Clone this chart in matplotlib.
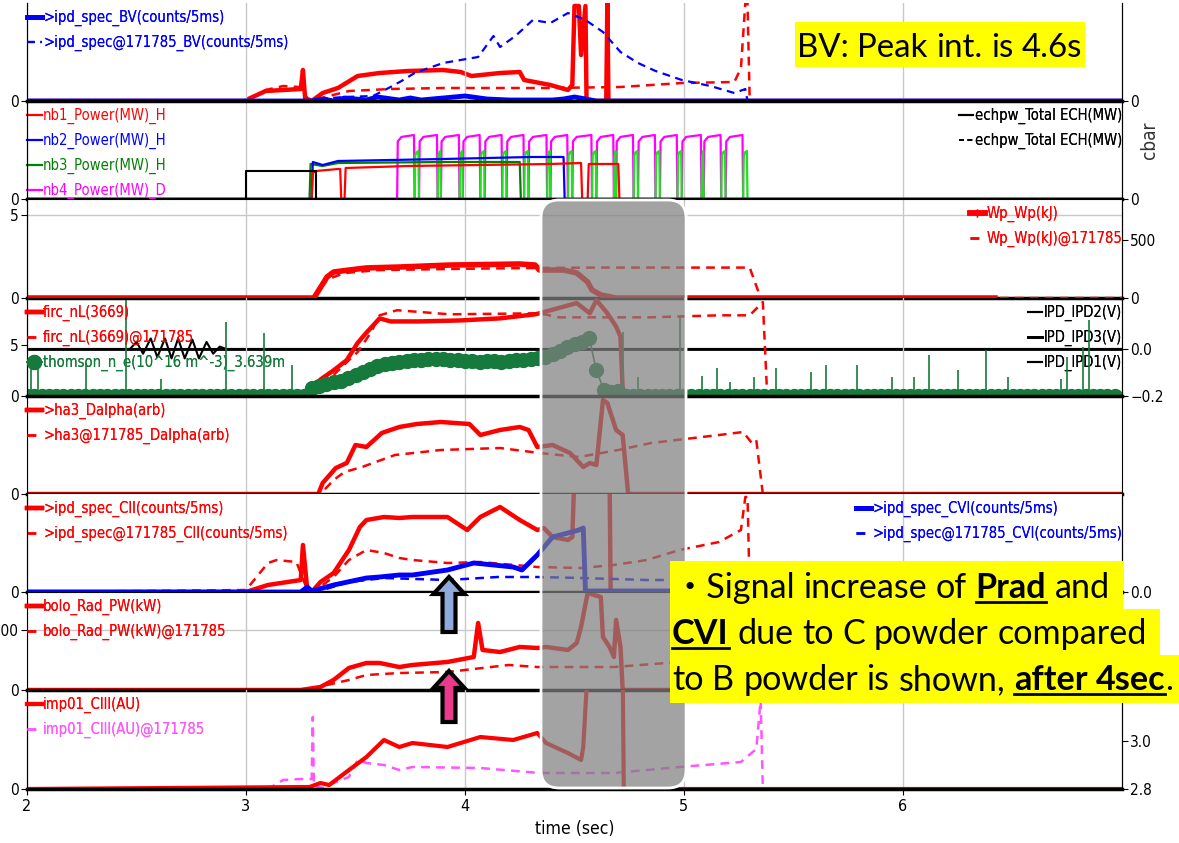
import re
import numpy as np
import matplotlib
matplotlib.use('Agg')
import matplotlib.pyplot as plt
from matplotlib import font_manager as fm
from matplotlib.patches import FancyBboxPatch, FancyArrow, Rectangle
from matplotlib.transforms import IdentityTransform
from matplotlib.lines import Line2D

# ---------------- data ----------------
# panel 1: BV line (arb. units)
bv_t = [2.0, 3.00, 3.01, 3.09, 3.25, 3.26, 3.27, 3.30, 3.35, 3.42, 3.51, 3.61, 3.74, 3.90, 3.98,
        4.03, 4.16, 4.25, 4.27, 4.39, 4.47, 4.49, 4.50, 4.52, 4.53, 4.55, 4.555, 4.645, 4.65, 4.655, 7.0]
bv_v = [0, 0, 2, 10, 12, 31, 3, 0, 8, 13, 25, 28, 30, 31, 29,
        25, 28, 29, 21, 16, 11, 16, 95, 95, 46, 95, 0, 0, 98, 0, 0]
bv2_t = [2.0, 3.0, 3.09, 3.17, 3.24, 3.28, 3.30, 3.38, 3.47, 3.66, 3.90, 4.39, 4.71, 4.99,
         5.23, 5.26, 5.28, 5.29, 5.30, 7.0]
bv2_v = [0, 0, 11, 15, 14, 3, 0, 5, 10, 12, 13, 13, 14, 18, 19, 33, 98, 98, 0, 0]
bvb_t = [2.0, 3.30, 3.35, 3.40, 3.45, 3.55, 3.60, 3.70, 3.75, 3.80, 3.90, 4.00, 4.10, 4.20,
         4.30, 4.40, 4.45, 4.50, 4.55, 4.60, 7.0]
bvb_v = [0, 0, 2, 0, 3, 1, 4, 1, 3, 1, 3, 5, 2, 1, 1, 1, 2, 4, 2, 0, 0]
bvb2_t = [2.0, 3.30, 3.32, 3.45, 3.58, 3.66, 3.71, 3.77, 3.90, 4.06, 4.13, 4.16, 4.23, 4.31,
          4.39, 4.47, 4.55, 4.63, 4.71, 4.79, 4.87, 4.99, 5.12, 5.23, 5.28, 5.29, 7.0]
bvb2_v = [0, 0, 2, 4, 5, 14, 20, 28, 38, 44, 65, 54, 65, 81, 78, 88, 81, 69, 49, 38, 30,
          21, 15, 8, 12, 0, 0]

# panel 2: NBI / ECH power (arb. units)
ech_t = [2.0, 3.0, 3.0, 3.32, 3.32, 7.0]
ech_v = [0, 0, 28, 28, 0, 0]
nb1_t = [2.0, 3.30, 3.305, 3.32, 3.42, 3.43, 3.435, 3.45, 3.455, 3.74, 4.39, 4.53, 4.535,
         4.56, 4.565, 4.70, 4.705, 7.0]
nb1_v = [0, 0, 26, 28, 30, 30, 0, 0, 31, 33, 35, 36, 0, 0, 35, 35, 0, 0]
nb2_t = [2.0, 3.30, 3.305, 3.35, 3.42, 3.90, 4.30, 4.45, 4.455, 7.0]
nb2_v = [0, 0, 37, 34, 38, 40, 42, 42, 0, 0]
nb3_t = [2.0, 3.29, 3.295, 3.35, 3.42, 3.90, 4.25, 4.255, 7.0]
nb3_v = [0, 0, 35, 33, 36, 37, 37, 0, 0]
nb3_on = [3.77, 3.875, 3.975, 4.07, 4.17, 4.27, 4.375, 4.47, 4.58, 4.68, 4.77, 4.87, 4.97, 5.08, 5.17, 5.27]
nb3_off = [3.79, 3.89, 3.99, 4.09, 4.19, 4.29, 4.39, 4.49, 4.60, 4.69, 4.79, 4.89, 4.99, 5.09, 5.19, 5.29]
nb3_level = 48
nb4_on = [3.69, 3.79, 3.89, 3.99, 4.09, 4.19, 4.29, 4.39, 4.49, 4.60, 4.69, 4.79, 4.89, 4.99, 5.09, 5.19]
nb4_off = [3.77, 3.875, 3.975, 4.07, 4.17, 4.27, 4.375, 4.47, 4.58, 4.68, 4.77, 4.87, 4.97, 5.08, 5.17, 5.27]
nb4_level = 64

# panel 3: Wp (kJ)
wp_t = [2.0, 3.31, 3.37, 3.40, 3.47, 3.55, 3.70, 3.93, 4.25, 4.32, 4.34, 4.45, 4.51, 4.56,
        4.58, 4.62, 4.69, 6.42]
wp_v = [0, 0, 181, 224, 241, 259, 267, 284, 293, 284, 241, 241, 216, 138, 69, 26, 0, 0]
wp2_t = [2.0, 3.31, 3.37, 3.45, 3.60, 4.00, 4.34, 4.60, 5.00, 5.30, 5.35, 7.0]
wp2_v = [0, 0, 160, 215, 240, 252, 259, 262, 262, 262, 0, 0]

# panel 4: density
nl_t = [2.0, 3.29, 3.30, 3.34, 3.40, 3.46, 3.51, 3.55, 3.61, 3.66, 3.79, 3.98, 4.16, 4.32,
        4.34, 4.51, 4.57, 4.60, 4.65, 4.69, 4.71, 4.72, 4.74, 7.0]
nl_v = [0, 0, 0.4, 1.6, 2.5, 3.5, 5.2, 6.2, 7.6, 7.3, 7.3, 7.4, 7.6, 8.0,
        8.1, 9.1, 8.1, 9.4, 8.1, 6.8, 5.8, 0.6, 0, 0]
nl2_t = [2.0, 3.30, 3.34, 3.47, 3.51, 3.57, 3.61, 3.69, 3.93, 4.34, 4.43, 4.84, 5.16, 5.30,
         5.36, 5.38, 7.0]
nl2_v = [0, 0, 0.8, 3.5, 4.3, 6.2, 7.9, 8.4, 8.0, 8.1, 7.7, 7.7, 7.9, 7.9, 9.2, 0, 0]
th_dt = 1 / 30
th_n = 150
th_start = 39  # first sample of plasma phase (t = 3.3 s)
th_plasma = [0.8, 1.0, 1.2, 1.4, 1.5, 1.7, 2.0, 2.3, 2.6, 2.9, 3.1, 3.2, 3.3, 3.4, 3.5, 3.5,
             3.6, 3.6, 3.6, 3.5, 3.5, 3.4, 3.4, 3.3, 3.4, 3.4, 3.3, 3.4, 3.5, 3.5, 3.6, 3.7,
             3.8, 4.1, 4.4, 4.8, 5.1, 5.3, 5.7, 2.5, 0.6, 0.4, 0.5]
th_err_t = [2.02, 2.05, 2.27, 2.45, 2.61, 2.91, 3.08, 3.21, 4.72, 4.79, 4.98, 5.08, 5.15, 5.21,
            5.32, 5.42, 5.58, 5.65, 5.79, 5.95, 6.05, 6.12, 6.25, 6.38, 6.48, 6.72, 6.75, 6.82, 6.85]
th_err_h = [3.8, 2.8, 3.2, 9.4, 1.6, 7.2, 6.2, 3.0, 6.3, 1.8, 7.7, 1.9, 2.7, 1.4,
            1.8, 2.7, 2.3, 3.0, 3.0, 1.8, 1.8, 4.0, 2.5, 4.5, 1.8, 1.6, 3.8, 4.8, 7.4]
ipd_t = [2.0, 2.47, 2.50, 2.53, 2.565, 2.595, 2.63, 2.66, 2.69, 2.72, 2.755, 2.785, 2.82,
         2.85, 2.88, 2.91, 7.0]
ipd_v = [0, 0, 0.03, -0.02, 0.045, -0.035, 0.045, -0.04, 0.045, -0.04, 0.04, -0.04, 0.03,
         -0.02, 0.01, 0, 0]

# panel 5: D alpha
da_t = [2.0, 3.33, 3.35, 3.41, 3.46, 3.50, 3.55, 3.62, 3.70, 3.78, 3.89, 4.02, 4.07, 4.16,
        4.25, 4.29, 4.33, 4.40, 4.48, 4.54, 4.57, 4.60, 4.63, 4.65, 4.69, 4.72, 4.745, 7.0]
da_v = [0, 0, 11, 26, 31, 49, 47, 61, 67, 70, 72, 70, 59, 64,
        67, 64, 47, 49, 41, 27, 31, 29, 94, 91, 64, 59, 0, 0]
da2_t = [2.0, 3.34, 3.40, 3.45, 3.53, 3.68, 3.89, 4.16, 4.34, 4.52, 4.70, 4.85, 5.16, 5.27,
         5.31, 5.33, 5.36, 7.0]
da2_v = [0, 0, 14, 22, 27, 39, 44, 46, 41, 37, 44, 51, 59, 62, 51, 54, 0, 0]

# panel 6: CII and CVI
c2_t = [2.0, 3.0, 3.10, 3.25, 3.26, 3.28, 3.30, 3.34, 3.40, 3.47, 3.52, 3.55, 3.63, 3.70,
        3.76, 3.92, 4.01, 4.07, 4.16, 4.25, 4.33, 4.36, 4.40, 4.47, 4.49, 4.50, 4.66, 4.665, 7.0]
c2_v = [0, 0, 7, 12, 47, 2, 0, 10, 19, 42, 65, 72, 75, 74,
        75, 75, 62, 75, 85, 72, 62, 64, 55, 52, 55, 120, 120, 0, 0]
c2d_t = [2.0, 3.0, 3.10, 3.14, 3.23, 3.28, 3.32, 3.40, 3.47, 3.55, 3.63, 3.70, 3.76, 3.92,
         4.07, 4.33, 4.53, 4.68, 4.83, 4.98, 5.16, 5.26, 5.28, 5.29, 5.30, 7.0]
c2d_v = [0, 2, 29, 32, 30, 2, 2, 15, 32, 42, 39, 34, 32, 29,
         30, 25, 24, 27, 32, 42, 50, 62, 95, 95, 0, 0]
c6_t = [2.0, 3.25, 3.28, 3.30, 3.40, 3.55, 3.61, 3.70, 3.76, 3.92, 4.04, 4.22, 4.26, 4.33,
        4.40, 4.47, 4.52, 4.54, 4.55, 7.0]
c6_v = [0, 0, 5, 1, 7, 14, 15, 17, 17, 22, 29, 25, 22, 37, 55, 59, 62, 64, 1, 1]
c6d_t = [2.0, 3.32, 3.47, 3.63, 3.92, 4.15, 4.33, 4.53, 4.83, 4.98, 5.28, 5.30, 7.0]
c6d_v = [0, 0, 10, 14, 12, 15, 15, 14, 12, 12, 12, 0, 0]

# panel 7: radiated power (kW)
bo_t = [2.0, 3.25, 3.34, 3.40, 3.47, 3.55, 3.61, 3.70, 3.76, 3.92, 4.04, 4.06, 4.08, 4.16,
        4.25, 4.33, 4.37, 4.47, 4.51, 4.53, 4.56, 4.62, 4.63, 4.66, 4.68, 4.69, 4.71, 4.72, 7.0]
bo_v = [0, 0, 50, 167, 367, 450, 450, 383, 417, 467, 550, 1117, 667, 633,
        717, 700, 717, 667, 783, 1050, 1617, 1550, 883, 717, 550, 1167, 717, 0, 0]
bo2_t = [2.0, 3.27, 3.47, 3.55, 3.70, 3.92, 4.20, 4.33, 4.68, 4.98, 5.26, 5.29, 5.30, 7.0]
bo2_v = [0, 0, 167, 250, 283, 300, 417, 383, 383, 467, 500, 500, 0, 0]

# panel 8: CIII
c3_t = [2.0, 3.29, 3.34, 3.38, 3.47, 3.55, 3.63, 3.70, 3.76, 3.92, 4.07, 4.22, 4.33, 4.37,
        4.47, 4.53, 4.54, 4.56, 4.72, 4.725, 7.0]
c3_v = [0, 2, 6, 4, 19, 32, 49, 42, 46, 42, 52, 49, 56, 46, 36, 29, 42, 120, 120, 0, 0]
c3d_t = [2.0, 3.10, 3.17, 3.25, 3.30, 3.305, 3.31, 3.35, 3.40, 3.47, 3.51, 3.55, 3.63, 3.70,
         3.76, 4.07, 4.34, 4.68, 4.98, 5.26, 5.33, 5.35, 5.36, 7.0]
c3d_v = [0, 0, 9, 10, 10, 72, 3, 1, 6, 12, 29, 26, 24, 19, 22, 21, 16, 16, 22, 27, 40, 89, 0, 0]

xticks = [2, 3, 4, 5, 6]

RED = '#ff0000'
BLUE = '#0000ff'
GREEN = '#008000'
LIME = '#22dd22'
MAG = '#ff00ff'
THG = '#157a3c'
VIO = '#ff55ff'
DASH = (0, (3.5, 2.5))

W, H = 1179, 843
FAM_Y = ['Lato', 'Noto Sans CJK JP', 'DejaVu Sans']

# narrow font for the plot texts: use a condensed face if one is installed
fam, stretch, leg_size = 'Liberation Sans', 'normal', 8.6
for f, s, sz in [('Liberation Sans Narrow', 'normal', 10.2), ('DejaVu Sans', 'condensed', 9.6)]:
    path = fm.findfont(fm.FontProperties(family=f, stretch=s), fallback_to_default=True)
    if 'Narrow' in path or 'Condensed' in path:
        fam, stretch, leg_size = f, s, sz
        break
plt.rcParams['font.family'] = [fam, 'DejaVu Sans']
plt.rcParams['font.stretch'] = stretch
plt.rcParams['font.size'] = leg_size


def pulses(on, off, level, rise):
    t, v = [2.0], [0]
    for a, b in zip(on, off):
        t += [a, a + 0.003, a + rise, b - 0.003, b]
        v += [0, level * 0.9, level * 0.97, level, 0]
    t.append(7.0)
    v.append(0)
    return t, v


fig = plt.figure(figsize=(W / 100, H / 100), dpi=100)
edges = [3, 101, 199, 298, 396, 494, 592, 690, 789]
xl, xr = 27, 1122
axes = []
for i in range(8):
    top, bot = edges[i], edges[i + 1]
    ax = fig.add_axes([xl / W, 1 - bot / H, (xr - xl) / W, (bot - top) / H])
    ax.set_xlim(2, 7)
    ax.set_xticks(xticks)
    ax.grid(axis='x', color='#c8c8c8', lw=1)
    ax.set_axisbelow(True)
    ax.spines['top'].set_visible(False)
    ax.spines['bottom'].set_linewidth(2.5)
    ax.tick_params(axis='x', labelbottom=False, length=0)
    ax.tick_params(axis='y', direction='out', length=4, pad=2, labelsize=leg_size + 1.5)
    axes.append(ax)


def twin(ax, lim, ticks, labels=None):
    tw = ax.twinx()
    tw.set_ylim(*lim)
    tw.set_yticks(ticks, labels)
    tw.spines['top'].set_visible(False)
    tw.tick_params(axis='y', direction='out', length=4, pad=2, labelsize=leg_size + 1.5)
    return tw


def legend(ax, loc, handles, pad=7):
    h = ax.get_window_extent().height
    anchor = (0.0 if 'left' in loc else 1.0, 1 - pad / h)
    lg = ax.legend(handles=handles, loc=loc, bbox_to_anchor=anchor, frameon=False,
                   fontsize=leg_size + 1, handlelength=1.0, handletextpad=0.1, borderpad=0,
                   borderaxespad=0, labelspacing=0.6, labelcolor='linecolor')
    ax.add_artist(lg)
    return lg


# panel 1
a = axes[0]
a.set_ylim(0, 98)
a.set_yticks([0])
t1 = twin(a, (0, 98), [0])
t1.plot(bv_t, bv_v, color=RED, lw=3.2)
t1.plot(bv2_t, bv2_v, color=RED, lw=1.8, ls=DASH)
l1, = a.plot(bvb_t, bvb_v, color=BLUE, lw=3.5, label='>ipd_spec_BV(counts/5ms)')
l2, = a.plot(bvb2_t, bvb2_v, color=BLUE, lw=1.6, ls=DASH,
             label='>ipd_spec@171785_BV(counts/5ms)')
a.set_zorder(t1.get_zorder() + 1)
a.patch.set_visible(False)
legend(a, 'upper left', [l1, l2])

# panel 2
a = axes[1]
a.set_ylim(0, 98)
a.set_yticks([0])
t2 = twin(a, (0, 98), [0])
p3t, p3v = pulses(nb3_on, nb3_off, nb3_level, 0.008)
p4t, p4v = pulses(nb4_on, nb4_off, nb4_level, 0.02)
h4, = a.plot(p4t, p4v, color=MAG, lw=1.6, label='nb4_Power(MW)_D')
a.plot(p3t, p3v, color=LIME, lw=1.6)
h3, = a.plot(nb3_t, nb3_v, color=GREEN, lw=1.6, label='nb3_Power(MW)_H')
h2, = a.plot(nb2_t, nb2_v, color=BLUE, lw=1.6, label='nb2_Power(MW)_H')
h1, = a.plot(nb1_t, nb1_v, color=RED, lw=1.6, label='nb1_Power(MW)_H')
e1, = a.plot(ech_t, ech_v, color='black', lw=1.5, label='echpw_Total ECH(MW)')
e2, = a.plot(ech_t, ech_v, color='black', lw=1.2, ls=(0, (3, 2)), label='echpw_Total ECH(MW)')
legend(a, 'upper left', [h1, h2, h3, h4])
legend(a, 'upper right', [e1, e2])

# panel 3
a = axes[2]
a.set_ylim(0, 5.96)
a.set_yticks([0, 5])
a.grid(axis='y', color='#c8c8c8', lw=1)
t3 = twin(a, (0, 853), [0, 500])
w1, = t3.plot(wp_t, wp_v, color=RED, lw=4, marker='+', ms=6, markevery=[0], label='Wp_Wp(kJ)')
w2, = t3.plot(wp2_t, wp2_v, color=RED, lw=1.8, ls=DASH, label='Wp_Wp(kJ)@171785')
legend(t3, 'upper right', [w1, w2])

# panel 4
a = axes[3]
a.set_ylim(-0.02, 9.6)
a.set_yticks([0, 5])
t4 = twin(a, (-0.2, 0.217), [-0.2, 0.0], ['\u22120.2', '0.0'])
i2, = t4.plot(ipd_t, ipd_v, color='black', lw=1.5, label='IPD_IPD2(V)')
i3, = t4.plot([2, 7], [0, 0], color='black', lw=2, label='IPD_IPD3(V)')
i1, = t4.plot([2, 7], [0, 0], color='black', lw=1.5, label='IPD_IPD1(V)')
th_t = 2.0 + th_dt * np.arange(th_n)
th_v = np.zeros(th_n)
th_v[th_start:th_start + len(th_plasma)] = th_plasma
f2, = a.plot(nl2_t, nl2_v, color=RED, lw=1.8, ls=DASH, label='firc_nL(3669)@171785')
f1, = a.plot(nl_t, nl_v, color=RED, lw=3.2, label='firc_nL(3669)')
a.vlines(th_err_t, 0, th_err_h, color=THG, lw=1.2)
g1, = a.plot(th_t, th_v, color=THG, lw=1.2, marker='o', ms=10,
             label='thomson_n_e(10^16 m^-3)_3.639m')
a.set_zorder(t4.get_zorder() + 1)
a.patch.set_visible(False)
legend(a, 'upper left', [f1, f2, g1])
legend(t4, 'upper right', [i2, i3, i1])

# panel 5
a = axes[4]
a.set_ylim(0, 98)
a.set_yticks([0])
d2, = a.plot(da2_t, da2_v, color=RED, lw=1.8, ls=DASH, label='>ha3@171785_Dalpha(arb)')
d1, = a.plot(da_t, da_v, color=RED, lw=3.2, label='>ha3_Dalpha(arb)')
legend(a, 'upper left', [d1, d2])

# panel 6
a = axes[5]
a.set_ylim(0, 98)
a.set_yticks([0])
t6 = twin(a, (0, 98), [0], ['0.0'])
s2, = a.plot(c2d_t, c2d_v, color=RED, lw=1.8, ls=DASH,
             label='>ipd_spec@171785_CII(counts/5ms)')
s1, = a.plot(c2_t, c2_v, color=RED, lw=3.2, label='>ipd_spec_CII(counts/5ms)')
v2, = t6.plot(c6d_t, c6d_v, color=BLUE, lw=1.8, ls=DASH,
              label='>ipd_spec@171785_CVI(counts/5ms)')
v1, = t6.plot(c6_t, c6_v, color=BLUE, lw=3.5, label='>ipd_spec_CVI(counts/5ms)')
legend(a, 'upper left', [s1, s2])
legend(t6, 'upper right', [v1, v2])

# panel 7
a = axes[6]
a.set_ylim(0, 1633)
a.set_yticks([0, 1000])
a.grid(axis='y', color='#c8c8c8', lw=1)
b2, = a.plot(bo2_t, bo2_v, color=RED, lw=1.8, ls=DASH, label='bolo_Rad_PW(kW)@171785')
b1, = a.plot(bo_t, bo_v, color=RED, lw=3.2, label='bolo_Rad_PW(kW)')
legend(a, 'upper left', [b1, b2])

# panel 8
a = axes[7]
a.set_ylim(0, 99)
a.set_yticks([0])
t8 = twin(a, (2.8, 3.2125), [2.8, 3.0])
m2, = a.plot(c3d_t, c3d_v, color=VIO, lw=1.8, ls=DASH, label='imp01_CIII(AU)@171785')
m1, = a.plot(c3_t, c3_v, color=RED, lw=3, label='imp01_CIII(AU)')
legend(a, 'upper left', [m1, m2])
a.set_zorder(t8.get_zorder() + 1)
a.patch.set_visible(False)
a.tick_params(axis='x', labelbottom=True, length=4, labelsize=leg_size + 2)
a.set_xlabel('time (sec)', fontsize=leg_size + 3, labelpad=4)

fig.text(1150 / W, 1 - 140 / H, 'cbar', rotation=90, ha='center', va='center',
         fontsize=leg_size + 4, color='#333333')

# ---------------- overlays ----------------
fig.add_artist(FancyBboxPatch((541, H - 788), 145, 588,
                              boxstyle='round,pad=0,rounding_size=18',
                              transform=IdentityTransform(), fc=(0.5, 0.5, 0.5, 0.72),
                              ec='white', lw=2, zorder=5))

for base, tip, col in [(632, 577, '#8faadc'), (722, 671, '#ec3a8a')]:
    fig.add_artist(FancyArrow(449, H - base, 0, base - tip, width=13, head_width=31,
                              head_length=17, length_includes_head=True,
                              transform=IdentityTransform(), fc=col, ec='black', lw=3,
                              zorder=8))

renderer = fig.canvas.get_renderer()


def run_line(x, base, runs, size, draw=True):
    cx = x
    made = []
    for txt, bold, ul in runs:
        weight = 'bold' if bold else 'normal'
        probe = [fig.text(0, 0, s, fontsize=size, fontweight=weight, family=FAM_Y,
                          fontstretch='normal') for s in ('a a', 'aa')]
        sw = probe[0].get_window_extent(renderer).width - probe[1].get_window_extent(renderer).width
        for p in probe:
            p.remove()
        start = None
        for chunk in re.split('( )', txt):
            if chunk == '':
                continue
            if chunk == ' ':
                cx += sw
                continue
            t = fig.text(cx / W, 1 - base / H, chunk, fontsize=size, fontweight=weight,
                         family=FAM_Y, fontstretch='normal', va='baseline', ha='left',
                         zorder=12)
            bb = t.get_window_extent(renderer)
            if start is None:
                start = cx
            cx = bb.x1
            made.append(t)
        if ul and draw:
            fig.add_artist(Line2D([start / W, cx / W], [1 - (base + 4) / H] * 2,
                                  color='black', lw=2, zorder=12))
    if not draw:
        for t in made:
            t.remove()
    return cx


top_runs = [('BV: Peak int. is 4.6s', False, False)]
s_top = 20 * 285 / (run_line(0, 0, top_runs, 20, draw=False))
end = run_line(797, 57, top_runs, s_top)
fig.add_artist(Rectangle((795 / W, 1 - 67 / H), (end + 3 - 795) / W, 45 / H,
                         transform=fig.transFigure, fc='yellow', ec='none', zorder=11))

lines = [
    (670, 561, 609, 598, [('\u30fbSignal increase of ', False, False), ('Prad', True, True),
                          (' and', False, False)]),
    (670, 609, 655, 644, [('CVI', True, True), (' due to C powder compared', False, False)]),
    (670, 655, 703, 690, [('to B powder is shown, ', False, False), ('after 4sec', True, True),
                          ('.', False, False)]),
]
s_box = 20 * 502 / (run_line(0, 0, lines[2][4], 20, draw=False))
for x0, ytop, ybot, base, runs in lines:
    end = run_line(x0 + 2, base, runs, s_box)
    fig.add_artist(Rectangle((x0 / W, 1 - ybot / H), (end + 13 - x0) / W, (ybot - ytop) / H,
                             transform=fig.transFigure, fc='yellow', ec='none', zorder=11))

fig.savefig('out.png', dpi=100)
